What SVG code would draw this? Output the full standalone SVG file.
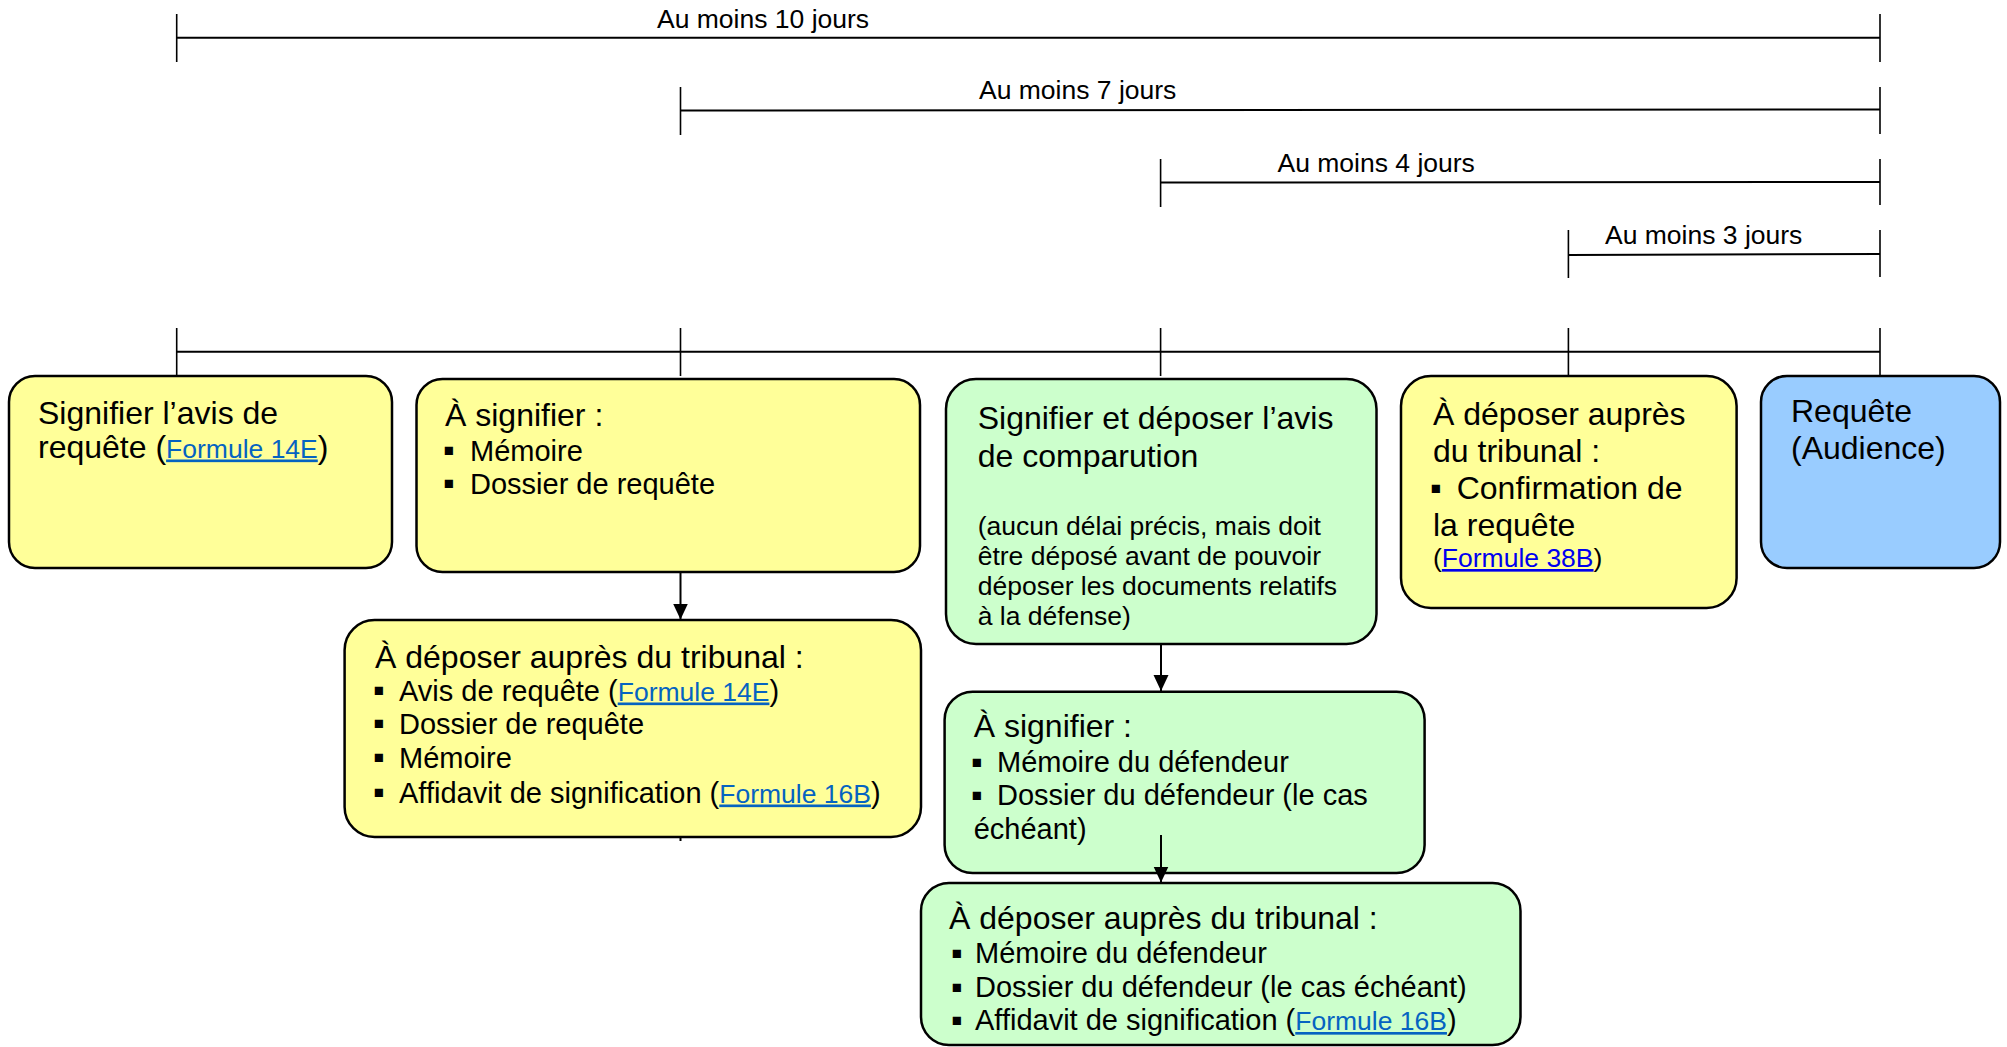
<svg xmlns="http://www.w3.org/2000/svg" width="2007" height="1047" viewBox="0 0 2007 1047">
<defs>
<style>
text{font-family:"Liberation Sans",Arial,sans-serif;fill:#000}
.t{font-size:32px}
.b{font-size:29px}
.u{font-size:33px}
.s{font-size:26.5px}
.lk{fill:#0563C1;text-decoration:underline;font-size:26.5px}
.lk2{fill:#0000EE;text-decoration:underline}
.box{stroke:#000;stroke-width:2.5}
.y{fill:#FFFF99}
.g{fill:#CCFFCC}
.bl{fill:#99CCFF}
.h{stroke:#000;stroke-width:2;fill:none}
.k{stroke:#000;stroke-width:1.6;fill:none}
.c{stroke:#000;stroke-width:2;fill:none}
</style>
<marker id="ah" markerUnits="userSpaceOnUse" markerWidth="16" markerHeight="16" viewBox="0 0 16 16" refX="16" refY="7.5" orient="auto">
<path d="M0,0 L16,7.5 L0,15 z" fill="#000"/>
</marker>
</defs>
<rect width="2007" height="1047" fill="#fff"/>
<g id="timeline">
<line class="h" x1="176.7" y1="37.7" x2="1880" y2="37.7"/>
<line class="k" x1="176.7" y1="14" x2="176.7" y2="62"/>
<line class="k" x1="1880" y1="14" x2="1880" y2="62"/>
<text class="s" x="657" y="28">Au moins 10 jours</text>
<line class="h" x1="680.5" y1="110.5" x2="1880" y2="109.5"/>
<line class="k" x1="680.5" y1="87" x2="680.5" y2="135"/>
<line class="k" x1="1880" y1="87" x2="1880" y2="134"/>
<text class="s" x="979" y="99">Au moins 7 jours</text>
<line class="h" x1="1160.6" y1="182.5" x2="1880" y2="182"/>
<line class="k" x1="1160.6" y1="159" x2="1160.6" y2="207"/>
<line class="k" x1="1880" y1="159" x2="1880" y2="205"/>
<text class="s" x="1277.5" y="171.5">Au moins 4 jours</text>
<line class="h" x1="1568.4" y1="255" x2="1880" y2="254"/>
<line class="k" x1="1568.4" y1="230" x2="1568.4" y2="278"/>
<line class="k" x1="1880" y1="230" x2="1880" y2="277"/>
<text class="s" x="1605" y="244">Au moins 3 jours</text>
<line class="h" x1="176.7" y1="351.7" x2="1880" y2="351.7"/>
<line class="k" x1="176.7" y1="328" x2="176.7" y2="376"/>
<line class="k" x1="680.5" y1="328" x2="680.5" y2="376"/>
<line class="k" x1="1160.6" y1="328" x2="1160.6" y2="376"/>
<line class="k" x1="1568.4" y1="328" x2="1568.4" y2="376"/>
<line class="k" x1="1880" y1="328" x2="1880" y2="376"/>
</g>
<g id="n1">
<rect class="box y" x="9" y="376" width="383" height="192" rx="26"/>
<text class="t" x="38" y="423.5">Signifier l’avis de</text>
<text class="t" x="38" y="457.5">requête (<tspan class="lk">Formule 14E</tspan>)</text>
</g>
<g id="n2">
<rect class="box y" x="416.5" y="379" width="503.5" height="193" rx="26"/>
<text class="t" x="445" y="425.5">À signifier :</text>
<text class="u" x="443" y="461">▪</text><text class="b" x="470" y="460.5">Mémoire</text>
<text class="u" x="443" y="494">▪</text><text class="b" x="470" y="493.5">Dossier de requête</text>
</g>
<g id="n3">
<rect class="box g" x="946" y="379" width="430.5" height="265" rx="30"/>
<text class="t" x="977.7" y="428.5">Signifier et déposer l’avis</text>
<text class="t" x="977.7" y="466.5">de comparution</text>
<text class="s" x="977.7" y="535">(aucun délai précis, mais doit</text>
<text class="s" x="977.7" y="565">être déposé avant de pouvoir</text>
<text class="s" x="977.7" y="595">déposer les documents relatifs</text>
<text class="s" x="977.7" y="625">à la défense)</text>
</g>
<g id="n4">
<rect class="box y" x="1401" y="376" width="335.6" height="232" rx="30"/>
<text class="t" x="1433" y="424.5">À déposer auprès</text>
<text class="t" x="1433" y="461.5">du tribunal :</text>
<text class="u" x="1430" y="498.5">▪</text><text class="t" x="1456.7" y="498.5">Confirmation de</text>
<text class="t" x="1433" y="535.5">la requête</text>
<text class="s" x="1433" y="567">(<tspan class="lk2">Formule 38B</tspan>)</text>
</g>
<g id="n5">
<rect class="box bl" x="1761" y="376" width="239" height="192" rx="26"/>
<text class="t" x="1791" y="422">Requête</text>
<text class="t" x="1791" y="458.5">(Audience)</text>
</g>
<g id="n6">
<rect class="box y" x="344.6" y="620" width="576.4" height="217" rx="30"/>
<text class="t" x="375" y="667.5">À déposer auprès du tribunal :</text>
<text class="u" x="373" y="701">▪</text><text class="b" x="399" y="700.5">Avis de requête (<tspan class="lk">Formule 14E</tspan>)</text>
<text class="u" x="373" y="734">▪</text><text class="b" x="399" y="733.5">Dossier de requête</text>
<text class="u" x="373" y="768">▪</text><text class="b" x="399" y="767.5">Mémoire</text>
<text class="u" x="373" y="803">▪</text><text class="b" x="399" y="802.5">Affidavit de signification (<tspan class="lk">Formule 16B</tspan>)</text>
</g>
<g id="n7">
<rect class="box g" x="944.6" y="691.7" width="480" height="181.3" rx="28"/>
<text class="t" x="973.7" y="737">À signifier :</text>
<text class="u" x="971" y="772.5">▪</text><text class="b" x="997" y="772">Mémoire du défendeur</text>
<text class="u" x="971" y="805.5">▪</text><text class="b" x="997" y="805">Dossier du défendeur (le cas</text>
<text class="b" x="973.7" y="838.5">échéant)</text>
</g>
<g id="n8">
<rect class="box g" x="921" y="883" width="599.5" height="162" rx="28"/>
<text class="t" x="949" y="928.5">À déposer auprès du tribunal :</text>
<text class="u" x="951" y="963.5">▪</text><text class="b" x="975" y="963">Mémoire du défendeur</text>
<text class="u" x="951" y="997.5">▪</text><text class="b" x="975" y="997">Dossier du défendeur (le cas échéant)</text>
<text class="u" x="951" y="1030.5">▪</text><text class="b" x="975" y="1030">Affidavit de signification (<tspan class="lk">Formule 16B</tspan>)</text>
</g>
<g id="connectors">
<line class="c" x1="680.5" y1="572" x2="680.5" y2="619.5" marker-end="url(#ah)"/>
<line class="c" x1="1161" y1="644" x2="1161" y2="691" marker-end="url(#ah)"/>
<line class="c" x1="1161" y1="835" x2="1161" y2="882.5" marker-end="url(#ah)"/>
<line class="c" x1="680.5" y1="837" x2="680.5" y2="841"/>
</g>
</svg>
